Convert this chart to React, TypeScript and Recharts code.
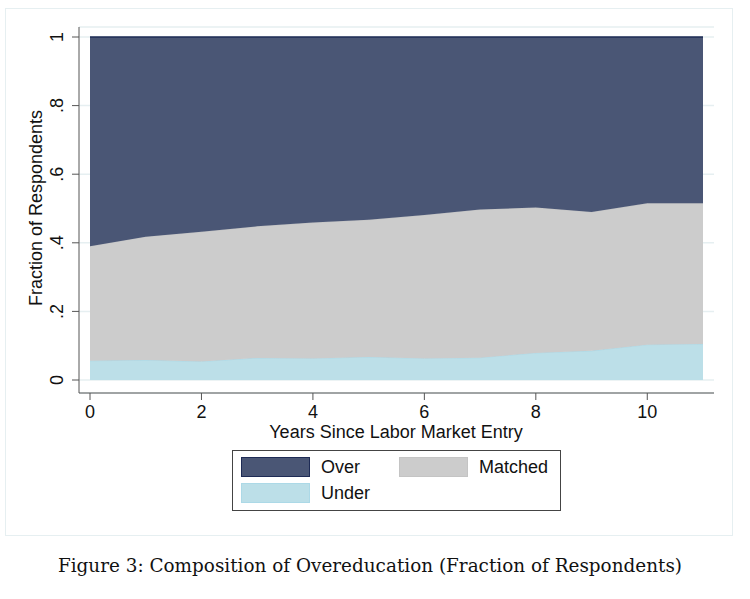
import {
  Area,
  AreaChart,
  CartesianGrid,
  XAxis,
  YAxis,
} from "recharts";

const years = [0, 1, 2, 3, 4, 5, 6, 7, 8, 9, 10, 11];
const under = [0.056, 0.058, 0.054, 0.064, 0.063, 0.067, 0.063, 0.065, 0.079, 0.085, 0.103, 0.105];
const matched = [0.334, 0.36, 0.378, 0.384, 0.396, 0.4, 0.418, 0.432, 0.424, 0.405, 0.412, 0.41];
const over = [0.61, 0.582, 0.568, 0.552, 0.541, 0.533, 0.519, 0.503, 0.497, 0.51, 0.485, 0.485];

const xTicks = [0, 2, 4, 6, 8, 10];
const yTicks = [0, 0.2, 0.4, 0.6, 0.8, 1];

const COLORS = {
  over: "#4a5675",
  overLine: "#1e2b55",
  matched: "#cccccc",
  matchedLine: "#c4c4c4",
  under: "#bcdfe8",
  underLine: "#acd9e7",
};

const data = years.map((y, i) => ({
  year: y,
  under: under[i],
  matched: matched[i],
  over: over[i],
}));

const FONT = "'Liberation Sans', Arial, Helvetica, sans-serif";
const FS = 18;

const fmtY = (v: number) => {
  if (v === 0) return "0";
  if (v === 1) return "1";
  return v.toFixed(1).replace(/^0/, "");
};

function YTick({ y, payload }: any) {
  return (
    <text
      x={63}
      y={y}
      transform={`rotate(-90, 63, ${y})`}
      textAnchor="middle"
      fontFamily={FONT}
      fontSize={FS}
      fill="#111"
    >
      {fmtY(payload.value)}
    </text>
  );
}

function XTick({ x, payload }: any) {
  return (
    <text x={x} y={418} textAnchor="middle" fontFamily={FONT} fontSize={FS} fill="#111">
      {payload.value}
    </text>
  );
}

const legendItems = [
  { label: "Over", color: COLORS.over, line: COLORS.overLine, left: 8, top: 6, textLeft: 88 },
  { label: "Matched", color: COLORS.matched, line: COLORS.matchedLine, left: 166, top: 6, textLeft: 246 },
  { label: "Under", color: COLORS.under, line: COLORS.underLine, left: 8, top: 32, textLeft: 88 },
];

function LegendBox() {
  return (
    <div
      style={{
        position: "absolute",
        left: 232,
        top: 450,
        width: 327,
        height: 59,
        border: "1px solid #444",
        background: "#fff",
        fontFamily: FONT,
        fontSize: FS,
        color: "#111",
      }}
    >
      {legendItems.map((it) => (
        <div key={it.label}>
          <div
            style={{
              position: "absolute",
              left: it.left,
              top: it.top,
              width: 67,
              height: 18,
              background: it.color,
              border: `1px solid ${it.line}`,
            }}
          />
          <div style={{ position: "absolute", left: it.textLeft, top: it.top, lineHeight: "20px" }}>
            {it.label}
          </div>
        </div>
      ))}
    </div>
  );
}

export default function App() {
  return (
    <div style={{ position: "absolute", left: 0, top: 0, width: 750, height: 599, background: "#fff" }}>
      <div
        style={{
          position: "absolute",
          left: 5,
          top: 8,
          width: 726,
          height: 526,
          border: "1px solid #e6eff1",
        }}
      />
      <div style={{ position: "absolute", left: 0, top: 0 }}>
        <AreaChart
          width={750}
          height={599}
          data={data}
          margin={{ top: 27, right: 36, left: 19, bottom: 156 }}
        >
          <CartesianGrid vertical={false} stroke="#e6eff1" strokeWidth={1.5} />
          <XAxis
            dataKey="year"
            type="number"
            domain={[0, 11]}
            ticks={xTicks}
            padding={{ left: 11, right: 11 }}
            height={50}
            stroke="#555"
            tickSize={7}
            tick={<XTick />}
            label={{
              value: "Years Since Labor Market Entry",
              content: () => (
                <text x={396} y={438} textAnchor="middle" fontFamily={FONT} fontSize={FS} fill="#111">
                  Years Since Labor Market Entry
                </text>
              ),
            }}
          />
          <YAxis
            type="number"
            domain={[0, 1]}
            ticks={yTicks}
            padding={{ top: 10, bottom: 13 }}
            width={60}
            stroke="#555"
            tickSize={7}
            tick={<YTick />}
            label={{
              value: "Fraction of Respondents",
              content: () => (
                <text
                  x={42}
                  y={208}
                  transform="rotate(-90, 42, 208)"
                  textAnchor="middle"
                  fontFamily={FONT}
                  fontSize={FS}
                  fill="#111"
                >
                  Fraction of Respondents
                </text>
              ),
            }}
          />
          <Area
            type="linear"
            dataKey="under"
            name="Under"
            stackId="a"
            fill={COLORS.under}
            fillOpacity={1}
            stroke={COLORS.underLine}
            strokeWidth={1}
            isAnimationActive={false}
          />
          <Area
            type="linear"
            dataKey="matched"
            name="Matched"
            stackId="a"
            fill={COLORS.matched}
            fillOpacity={1}
            stroke={COLORS.matchedLine}
            strokeWidth={1}
            isAnimationActive={false}
          />
          <Area
            type="linear"
            dataKey="over"
            name="Over"
            stackId="a"
            fill={COLORS.over}
            fillOpacity={1}
            stroke={COLORS.overLine}
            strokeWidth={1.5}
            isAnimationActive={false}
          />
        </AreaChart>
      </div>
      <LegendBox />
      <div
        style={{
          position: "absolute",
          left: 0,
          top: 555,
          width: 740,
          textAlign: "center",
          fontFamily: "'DejaVu Serif', serif",
          fontSize: 18.4,
          color: "#111",
        }}
      >
        Figure 3: Composition of Overeducation (Fraction of Respondents)
      </div>
    </div>
  );
}
